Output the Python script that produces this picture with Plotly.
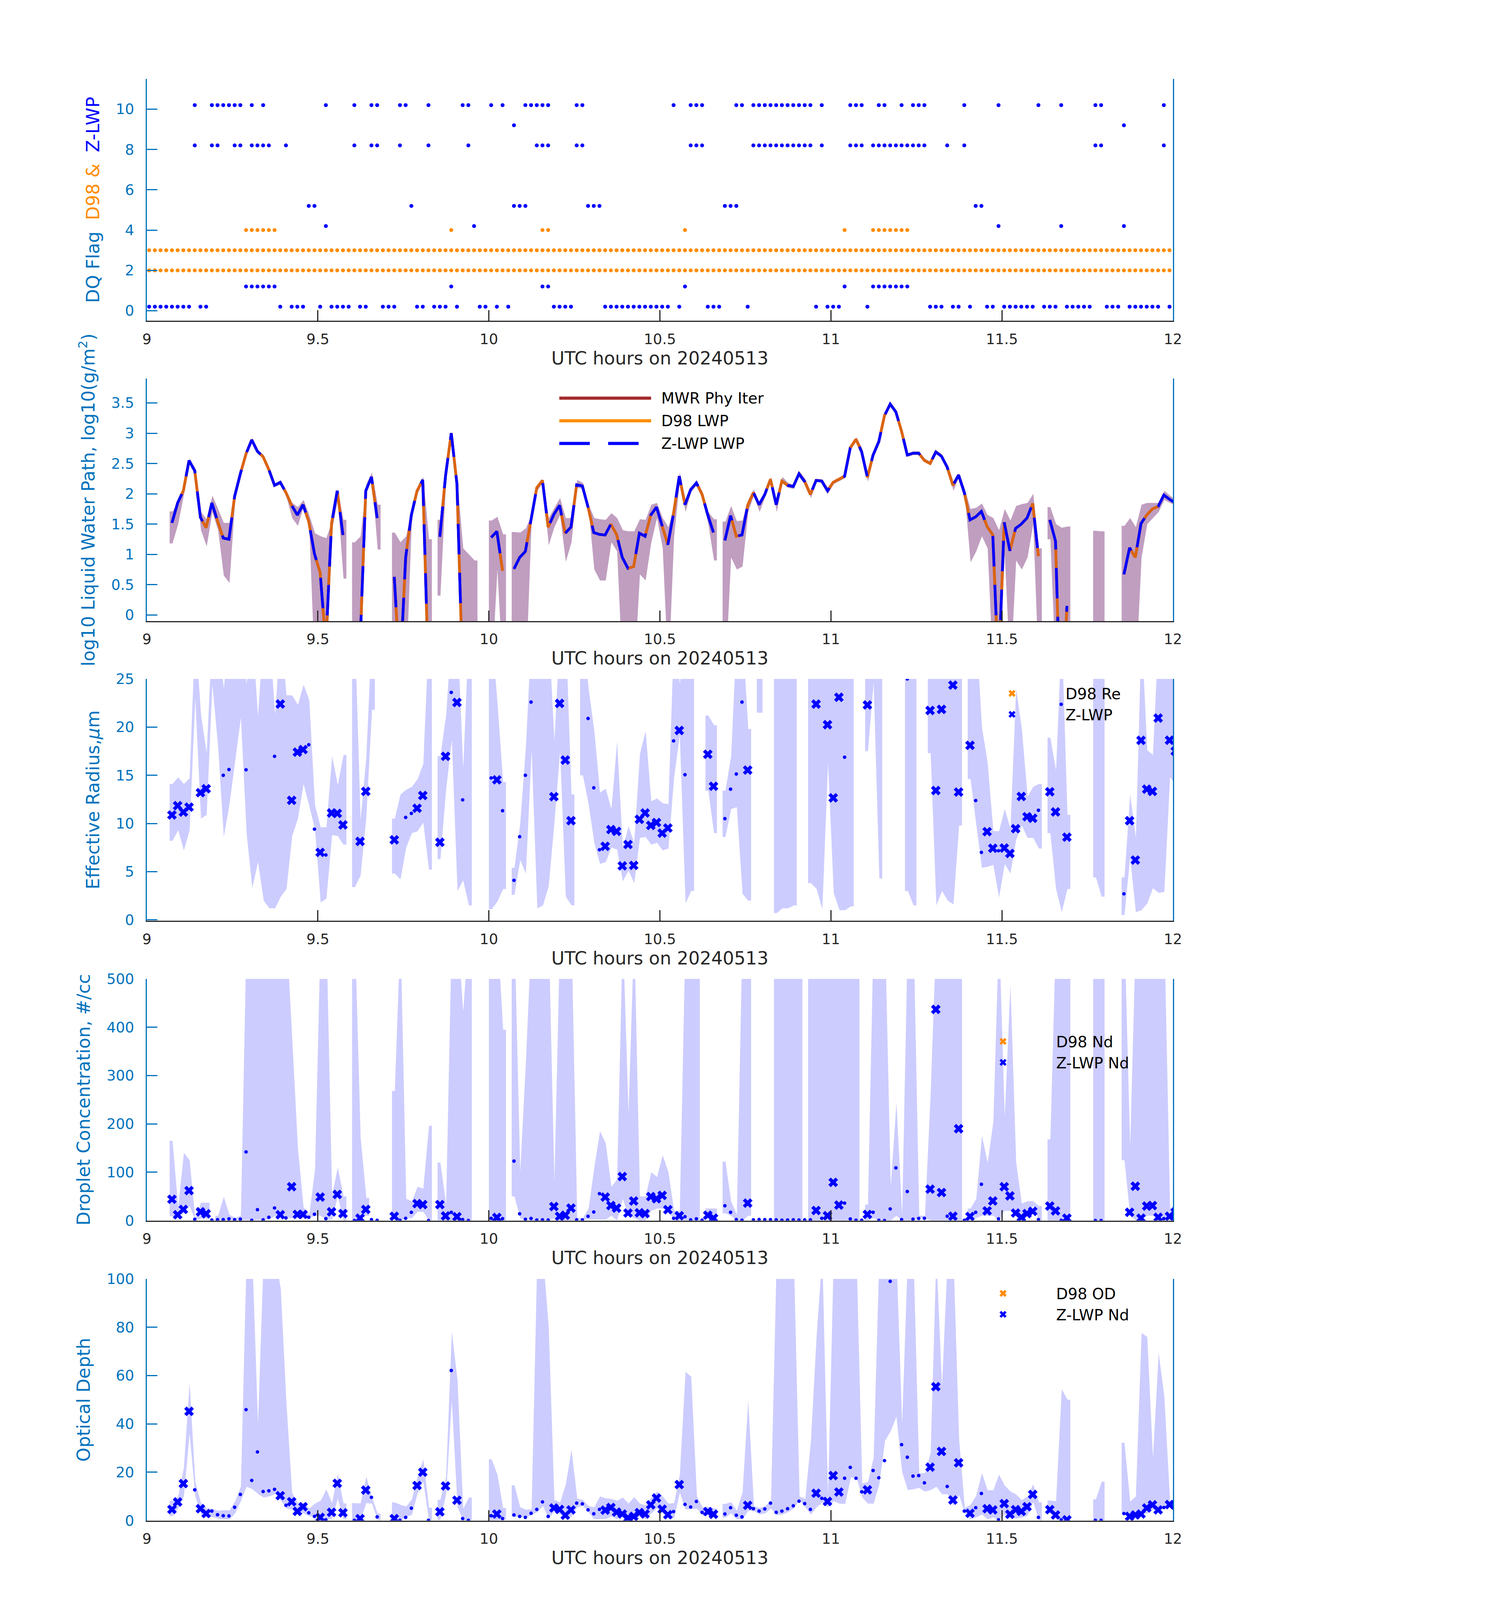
import plotly.graph_objects as go

# ---------------- data (minute index after 09:00 UTC) ----------------
x_ticks = [9, 9.5, 10, 10.5, 11, 11.5, 12]
x_ticklabels = ['9', '9.5', '10', '10.5', '11', '11.5', '12']

# DQ flags
d98_flag2_min = list(range(181))
d98_flag3_min = list(range(181))
d98_flag4_min = [17, 18, 19, 20, 21, 22, 53, 69, 70, 94, 122, 127, 128, 129, 130, 131, 132, 133]
zflag_0p2_min = [0, 1, 2, 3, 4, 5, 6, 7, 9, 10, 23, 25, 26, 27, 30, 32, 33, 34, 35, 37, 38, 41, 42, 43,
                 47, 48, 50, 51, 52, 54, 58, 59, 61, 63, 71, 72, 73, 74, 80, 81, 82, 83, 84, 85, 86, 87,
                 88, 89, 90, 91, 93, 98, 99, 100, 105, 117, 119, 120, 121, 126, 137, 138, 139, 141, 142,
                 144, 147, 148, 150, 151, 152, 153, 154, 155, 157, 158, 159, 161, 162, 163, 164, 165,
                 168, 169, 170, 172, 173, 174, 175, 176, 177, 179, 180]
zflag_1p2_min = [17, 18, 19, 20, 21, 22, 53, 69, 70, 94, 122, 127, 128, 129, 130, 131, 132, 133]
zflag_4p2_min = [31, 57, 149, 160, 171]
zflag_5p2_min = [28, 29, 46, 64, 65, 66, 77, 78, 79, 101, 102, 103, 145, 146]
zflag_8p2_min = [8, 11, 12, 15, 16, 18, 19, 20, 21, 24, 36, 39, 40, 44, 49, 56, 68, 69, 70, 75, 76, 95,
                 96, 97, 106, 107, 108, 109, 110, 111, 112, 113, 114, 115, 116, 118, 123, 124, 125, 127,
                 128, 129, 130, 131, 132, 133, 134, 135, 136, 140, 143, 166, 167, 178]
zflag_9p2_min = [64, 171]
zflag_10p2_min = [8, 11, 12, 13, 14, 15, 16, 18, 20, 31, 36, 39, 40, 44, 45, 49, 55, 56, 60, 62, 66, 67,
                  68, 69, 70, 75, 76, 92, 95, 96, 97, 103, 104, 106, 107, 108, 109, 110, 111, 112, 113,
                  114, 115, 116, 118, 123, 124, 125, 128, 129, 132, 134, 135, 136, 143, 149, 156, 160,
                  166, 167, 178]

# log10 LWP (same retrieval values read for MWR, D98 and Z-LWP)
lwp_min = [4, 5, 6, 7, 8, 9, 10, 11, 12, 13, 14, 15, 16, 17, 18, 19, 20, 21, 22, 23, 24, 25, 26, 27, 28,
           29, 30, 31, 32, 33, 34, 37, 38, 39, 40, 43, 44, 45, 46, 47, 48, 49, 51, 52, 53, 54, 55, 60,
           61, 62, 64, 65, 66, 67, 68, 69, 70, 71, 72, 73, 74, 75, 76, 77, 78, 79, 80, 81, 82, 83, 84,
           85, 86, 87, 88, 89, 90, 91, 92, 93, 94, 95, 96, 97, 98, 99, 101, 102, 103, 104, 105, 106,
           107, 108, 109, 110, 111, 112, 113, 114, 115, 116, 117, 118, 119, 120, 121, 122, 123, 124,
           125, 126, 127, 128, 129, 130, 131, 132, 133, 134, 135, 136, 137, 138, 139, 140, 141, 142,
           143, 144, 145, 146, 147, 148, 149, 150, 151, 152, 153, 154, 155, 156, 158, 159, 160, 161,
           171, 172, 173, 174, 175, 176, 177, 178, 179, 180]
lwp_val = [1.52, 1.85, 2.05, 2.55, 2.38, 1.61, 1.44, 1.85, 1.55, 1.27, 1.25, 1.96, 2.33, 2.66, 2.89,
           2.70, 2.61, 2.40, 2.14, 2.19, 2.02, 1.81, 1.65, 1.82, 1.54, 1.01, 0.70, -0.5, 1.51, 2.05,
           1.32, -0.5, 2.05, 2.28, 1.60, 0.63, -1.0, 0.95, 1.65, 2.05, 2.23, -1.0, 1.29, 2.30, 3.00,
           2.16, -1.0, 1.28, 1.38, 0.73, 0.76, 0.95, 1.05, 1.60, 2.10, 2.22, 1.45, 1.66, 1.81, 1.35,
           1.45, 2.15, 2.13, 1.78, 1.36, 1.33, 1.32, 1.50, 1.33, 0.95, 0.77, 0.80, 1.35, 1.30, 1.65,
           1.78, 1.48, 1.16, 1.68, 2.29, 1.82, 2.07, 2.18, 1.99, 1.65, 1.36, 1.23, 1.64, 1.30, 1.32,
           1.81, 2.02, 1.82, 1.99, 2.24, 1.82, 2.21, 2.14, 2.12, 2.33, 2.20, 1.99, 2.22, 2.21, 2.05,
           2.19, 2.24, 2.29, 2.76, 2.90, 2.69, 2.27, 2.64, 2.86, 3.29, 3.48, 3.35, 3.03, 2.64, 2.67,
           2.67, 2.55, 2.50, 2.69, 2.62, 2.44, 2.14, 2.31, 2.02, 1.57, 1.62, 1.71, 1.46, 1.32, -1.0,
           1.53, 1.06, 1.43, 1.50, 1.60, 1.84, 0.97, 1.57, 1.22, -2.0, 0.15, 0.67, 1.11, 0.95, 1.51,
           1.65, 1.75, 1.79, 1.98, 1.91, 1.85]

lwp_band_min = [4, 5, 6, 7, 8, 9, 10, 11, 12, 13, 14, 15, 16, 17, 18, 19, 20, 21, 22, 23, 24, 25, 26, 27,
                28, 29, 30, 31, 32, 33, 34, 36, 37, 38, 39, 40, 43, 44, 45, 46, 47, 48, 49, 51, 52, 53,
                54, 55, 56, 57, 60, 61, 62, 64, 65, 66, 67, 68, 69, 70, 71, 72, 73, 74, 75, 76, 77, 78,
                79, 80, 81, 82, 83, 84, 85, 86, 87, 88, 89, 90, 91, 92, 93, 94, 95, 96, 97, 98, 99, 101,
                102, 103, 104, 105, 106, 107, 108, 109, 110, 111, 112, 113, 114, 115, 116, 117, 118,
                119, 120, 121, 122, 123, 124, 125, 126, 127, 128, 129, 130, 131, 132, 133, 134, 135,
                136, 137, 138, 139, 140, 141, 142, 143, 144, 145, 146, 147, 148, 149, 150, 151, 152,
                153, 154, 155, 156, 158, 159, 160, 161, 166, 167, 171, 172, 173, 174, 175, 176, 177,
                178, 179, 180]
lwp_band_lo = [1.18, 1.50, 1.98, 2.50, 2.34, 1.40, 1.13, 1.70, 1.40, 0.65, 0.53, 1.90, 2.30, 2.63, 2.86,
               2.67, 2.58, 2.37, 2.12, 2.15, 1.95, 1.60, 1.47, 1.78, 1.45, -1, -1, -1, 1.40, 1.90, 0.60,
               -1, -1, 2.00, 2.25, 1.08, -1, -1, -1, 1.60, 2.00, 2.20, -1, 0.32, 2.25, 2.95, 2.10, -1,
               -1, -1, -1, 0.75, -1, -1, -1, -1, 1.55, 2.05, 2.18, 1.15, 1.45, 1.65, 0.88, 1.20, 2.10,
               2.08, 1.75, 0.75, 0.57, 0.57, 1.20, 1.05, -1, -1, -1, 0.67, 0.57, 1.20, 1.60, 1.10, -1,
               1.30, 2.20, 1.70, 2.03, 2.14, 1.95, 1.50, 0.90, -1, 0.95, 0.75, 0.80, 1.70, 1.97, 1.70,
               1.95, 2.20, 1.70, 2.18, 2.10, 2.08, 2.30, 2.15, 1.93, 2.20, 2.18, 2.00, 2.16, 2.21, 2.26,
               2.73, 2.87, 2.60, 2.20, 2.61, 2.83, 3.26, 3.45, 3.32, 3.00, 2.61, 2.64, 2.64, 2.52, 2.47,
               2.66, 2.59, 2.41, 2.05, 2.28, 1.98, 0.87, 1.05, 1.30, 1.10, -1, -1, 1.00, -1, 0.90, 0.75,
               0.95, 1.50, -1, 1.25, -1, -1, -1, -1, -1, -1, -1, -1, 0.95, 1.50, 1.60, 1.70, 1.90, 1.85,
               1.80]
lwp_band_hi = [1.71, 1.85, 2.10, 2.57, 2.42, 1.70, 1.58, 1.97, 1.75, 1.52, 1.52, 2.00, 2.36, 2.69, 2.92,
               2.73, 2.64, 2.43, 2.17, 2.22, 2.05, 1.85, 1.78, 1.90, 1.65, 1.35, 1.30, 1.27, 1.55, 2.07,
               1.57, 1.20, 1.30, 2.15, 2.35, 1.82, 1.36, 1.20, 1.30, 1.75, 2.10, 2.28, 1.25, 1.57, 2.35,
               3.02, 2.20, 1.10, 1.00, 0.90, 1.56, 1.62, 1.33, 1.37, 1.36, 1.43, 1.65, 2.15, 2.24, 1.60,
               1.77, 1.93, 1.60, 1.60, 2.23, 2.18, 1.82, 1.60, 1.58, 1.57, 1.68, 1.60, 1.40, 1.38, 1.38,
               1.58, 1.57, 1.82, 1.85, 1.60, 1.45, 1.80, 2.35, 1.90, 2.10, 2.22, 2.03, 1.70, 1.58, 1.54,
               1.80, 1.55, 1.56, 1.90, 2.07, 1.85, 2.05, 2.28, 1.85, 2.28, 2.18, 2.15, 2.37, 2.25, 2.03,
               2.25, 2.24, 2.10, 2.22, 2.27, 2.32, 2.79, 2.93, 2.75, 2.30, 2.67, 2.89, 3.32, 3.51, 3.38,
               3.06, 2.67, 2.70, 2.70, 2.58, 2.53, 2.72, 2.65, 2.47, 2.20, 2.34, 2.08, 1.75, 1.77, 1.84,
               1.65, 1.60, 1.40, 1.75, 1.56, 1.80, 1.83, 1.85, 2.00, 1.10, 1.78, 1.50, 1.44, 1.46, 1.39,
               1.38, 1.47, 1.60, 1.45, 1.82, 1.85, 1.85, 1.85, 2.05, 1.97, 1.90]

# Retrieval points: 'x' = Z-LWP retrieval, dot = low-confidence retrieval
re_x_min = [4, 5, 6, 7, 9, 10, 23, 25, 26, 27, 30, 32, 33, 34, 37, 38, 43, 47, 48, 51, 52, 54, 61, 71, 72,
            73, 74, 80, 81, 82, 83, 84, 85, 86, 87, 88, 89, 90, 91, 93, 98, 99, 105, 117, 119, 120, 121,
            126, 137, 138, 139, 141, 142, 144, 147, 148, 150, 151, 152, 153, 154, 155, 158, 159, 161,
            172, 173, 174, 175, 176, 177, 179, 180]
re_x_val = [10.88, 11.85, 11.18, 11.7, 13.2, 13.6, 22.4, 12.4, 17.4, 17.67, 7.0, 11.09, 11.05, 9.85, 8.14,
            13.33, 8.3, 11.58, 12.9, 8.05, 16.97, 22.56, 14.53, 12.78, 22.46, 16.58, 10.29, 7.63, 9.37,
            9.18, 5.6, 7.82, 5.65, 10.43, 11.09, 9.8, 10.1, 9.0, 9.53, 19.65, 17.18, 13.86, 15.54, 22.39,
            20.25, 12.66, 23.1, 22.3, 21.73, 13.42, 21.84, 24.36, 13.26, 18.11, 9.15, 7.43, 7.45, 6.89,
            9.46, 12.8, 10.7, 10.54, 13.29, 11.2, 8.58, 10.29, 6.2, 18.63, 13.56, 13.33, 20.94, 18.64,
            17.5]
re_dot_min = [13, 14, 17, 22, 28, 29, 31, 45, 46, 53, 55, 60, 62, 64, 65, 66, 67, 77, 78, 79, 92, 94, 101,
              102, 103, 104, 122, 133, 145, 146, 149, 156, 160, 171]
re_dot_val = [15.0, 15.6, 15.57, 16.97, 18.17, 9.41, 6.73, 10.63, 11.05, 23.6, 12.45, 14.72, 11.32, 4.1,
              8.63, 15.0, 22.6, 20.9, 13.7, 7.27, 18.57, 15.06, 10.5, 13.56, 15.13, 22.6, 16.88, 25.0,
              12.38, 7.0, 7.17, 11.37, 22.37, 2.7]
re_band_min = [4, 5, 6, 7, 8, 9, 10, 11, 12, 13, 14, 15, 16, 17, 18, 19, 20, 21, 22, 23, 24, 25, 26, 27,
               28, 29, 30, 31, 32, 33, 34, 36, 37, 38, 39, 43, 44, 45, 46, 47, 48, 49, 51, 52, 53, 54,
               55, 56, 60, 61, 62, 64, 65, 66, 67, 68, 69, 70, 71, 72, 73, 74, 76, 77, 78, 79, 80, 81,
               82, 83, 84, 85, 86, 87, 88, 89, 90, 91, 92, 93, 94, 95, 98, 99, 101, 102, 103, 104, 105,
               107, 110, 111, 112, 113, 116, 117, 118, 119, 120, 121, 122, 123, 126, 127, 128, 133,
               134, 137, 138, 139, 140, 141, 142, 144, 145, 146, 147, 148, 149, 150, 151, 152, 153,
               154, 155, 156, 158, 159, 160, 161, 166, 167, 171, 172, 173, 174, 175, 176, 177, 178,
               179, 180]
re_band_lo = [8.2, 9.3, 7.2, 9.3, 23.0, 10.5, 10.9, 24.4, 18, 8.6, 12.0, 16.5, 21, 9.0, 3.3, 6, 2.0, 1.2,
              1.2, 2.4, 3.2, 8.7, 10.5, 14.1, 11.8, 9.4, 1.8, 2.2, 8.8, 8.7, 7.8, 3.4, 4.6, 10.6, 21.8,
              4.8, 4.2, 7.5, 9.0, 9.2, 10.1, 5.2, 6.3, 13.5, 18.7, 3.0, 4.1, 1.5, 1.1, 1.9, 3.2, 2.6,
              6.2, 4.8, 17.6, 1.2, 1.5, 3.5, 10.1, 17.5, 2.4, 1.5, 15, 12, 8, 5.8, 6.0, 7.5, 7.3, 4.0,
              5.1, 3.8, 8.5, 8.6, 7.8, 8.0, 7.2, 7.4, 14.8, 19.2, 1.7, 3.0, 13.4, 9.0, 8.6, 11.5, 11.7,
              2.7, 2.0, 21.5, 0.7, 1.2, 1.2, 1.5, 3.8, 3.2, 1.1, 16.3, 2.8, 1.0, 1.0, 1.4, 17.5, 24.6,
              4.3, 3.0, 1.5, 17.3, 1.5, 3.0, 2.0, 1.6, 9.8, 14.6, 9.9, 5.4, 5.5, 5.7, 2.3, 5.8, 4.8,
              8.3, 9.8, 8.5, 8.5, 7.4, 9.0, 3.2, 0.8, 3.2, 4.4, 2.4, 0.5, 6.5, 0.8, 1.0, 1.7, 3.3, 2.8,
              2.9, 14.8, 14.0]
re_band_hi = [14.1, 14.8, 14.1, 14.7, 30, 21.3, 17.3, 30, 30, 24.0, 30, 30, 30, 24.5, 30, 21.2, 30, 30,
              21.3, 30, 23.3, 23.3, 22.3, 24.4, 22.8, 11.9, 9.6, 9.6, 17.0, 14.0, 17.1, 30, 10.4, 16.9,
              30, 10.5, 13.0, 13.5, 13.8, 14.6, 16.2, 30, 17.0, 21.2, 30, 30, 15.7, 30, 30, 22.6, 14.3,
              5.4, 10, 18, 30, 30, 30, 30, 18.6, 30, 30, 13.0, 30, 24, 19.6, 13.2, 13.6, 11.5, 18.5,
              7.5, 9.7, 8.0, 17.2, 19.6, 12.3, 12.6, 12.1, 12.0, 30, 24.5, 30, 30, 21.2, 20.2, 13.4,
              17.0, 30, 30, 19.8, 30, 30, 30, 30, 30, 30, 30, 30, 30, 30, 30, 30, 30, 30, 30, 30, 30,
              30, 30, 30, 30, 30, 30, 30, 30, 30, 20, 16.3, 9.2, 9.2, 11.5, 9.5, 24, 19.8, 12.8, 13.8,
              14.1, 18.9, 15.5, 30, 10.9, 30, 30, 4.4, 13.0, 8.5, 30, 17.6, 17.1, 30, 30, 30, 22.5]

nd_x_val = [44, 12, 23, 62, 18, 14, 12, 70, 12.7, 12.7, 48.6, 18, 54, 14.4, 5, 23, 8.8, 35, 33, 33, 9.5,
            8, 6.3, 29, 8.8, 11, 25.7, 48.6, 31, 25.7, 91, 15.5, 40.5, 16, 14.4, 49.6, 45, 52, 22.5, 10,
            11, 5, 36, 20.8, 10, 79, 32, 12.7, 65, 437, 58, 9, 190, 8.4, 20, 40.5, 70, 51, 15.5, 6.7,
            14.4, 19, 30, 20, 5, 17, 71, 5, 30, 31, 6.7, 8.8, 17]
nd_dot_min = [8, 11, 12, 13, 14, 15, 16, 17, 18, 19, 20, 21, 22, 24, 28, 29, 31, 36, 39, 40, 44, 45, 46,
              49, 53, 55, 56, 60, 62, 64, 65, 66, 67, 68, 69, 70, 75, 76, 77, 78, 79, 92, 94, 95, 96, 97,
              101, 102, 103, 104, 106, 107, 108, 109, 110, 111, 112, 113, 114, 115, 116, 118, 122, 123,
              124, 125, 127, 128, 129, 130, 131, 132, 133, 134, 135, 136, 140, 143, 145, 146, 149, 156,
              160, 166, 167, 178]
nd_dot_val = [2.5, 1, 1.8, 1.8, 3.5, 1.8, 2.8, 142, 0.4, 22.5, 1.4, 6.7, 26, 5.3, 6.7, 13, 3.9, 0, 1.8,
              0.4, 0.4, 4.6, 17, 0, 17, 2, 0, 4.6, 3.9, 123, 14, 2.5, 4.2, 1, 1.4, 1, 1.4, 1.4, 8.8,
              17.6, 55.6, 4.6, 8, 1.4, 3.5, 0.7, 30.6, 17, 2, 0.7, 1.4, 2, 1.8, 1.8, 1.4, 0.7, 1, 1.4, 1,
              1.4, 1.4, 4.6, 36, 3.2, 0.7, 0.7, 17, 0.4, 0, 24, 109, 2, 60, 2.8, 4.2, 4.6, 9, 0.4, 17,
              75, 3.5, 2, 0.4, 0, 0, 3.9]
nd_band_min = [4, 5, 6, 7, 8, 9, 10, 12, 13, 14, 15, 16, 17, 18, 19, 20, 21, 22, 23, 24, 25, 26, 27, 28,
               29, 30, 31, 32, 33, 34, 36, 37, 38, 43, 44, 45, 46, 47, 48, 49, 51, 52, 53, 54, 55, 56,
               60, 61, 62, 64, 65, 66, 67, 68, 69, 70, 71, 72, 73, 74, 75, 76, 77, 78, 79, 80, 81, 82,
               83, 84, 85, 86, 87, 88, 89, 90, 91, 92, 93, 94, 95, 96, 98, 99, 101, 102, 103, 104, 105,
               110, 111, 112, 113, 114, 116, 117, 118, 119, 120, 121, 122, 123, 124, 126, 127, 128,
               129, 130, 131, 132, 133, 134, 135, 136, 137, 138, 139, 140, 141, 142, 144, 145, 146,
               147, 148, 149, 150, 151, 152, 153, 154, 155, 156, 158, 159, 160, 161, 166, 167, 171,
               172, 173, 174, 175, 176, 177, 178, 179, 180]
nd_band_lo = [9, 7, 15, 30, 1, 4, 4, 0.5, 0.5, 1, 1, 1, 1, 1, 1, 1, 2, 10, 10, 5, 5, 5, 5, 5, 10, 10, 1,
              2, 50, 0, 0, 10, 10, 5, 0, 5, 5, 18, 18, 0, 0, 0, 0, 0, 0, 0, 0, 0, 0, 50, 5, 2, 0, 0, 0,
              0, 5, 0, 0, 0, 2, 2, 2, 2, 2, 2, 10, 0, 45, 10, 5, 0, 0, 20, 25, 25, 20, 0, 0, 0, 0, 0, 5,
              0, 15, 10, 0, 0, 10, 0, 0, 0, 0, 0, 0, 0, 0, 0, 0, 0, 0, 0, 0, 0, 5, 0, 0, 0, 10, 0, 0, 0,
              5, 5, 0, 0, 0, 0, 0, 0, 5, 5, 10, 10, 10, 0, 20, 20, 10, 0, 20, 30, 0, 0, 0, 0, 0, 0, 0,
              125, 10, 0, 5, 10, 10, 5, 5, 0, 0]
nd_band_hi = [165, 28, 140, 125, 4, 37, 37, 10, 49, 12, 5, 10, 600, 600, 600, 600, 600, 600, 600, 600,
              378, 150, 27, 12, 105, 600, 600, 52, 110, 50, 600, 173, 47, 268, 600, 45, 40, 70, 66, 196,
              120, 34, 600, 600, 433, 600, 600, 600, 395, 600, 100, 330, 600, 600, 600, 600, 80, 600,
              600, 600, 5, 5, 25, 110, 185, 160, 70, 85, 600, 222, 600, 50, 50, 100, 90, 135, 100, 20,
              20, 600, 600, 600, 25, 25, 122, 40, 12, 600, 600, 600, 600, 600, 600, 600, 600, 600, 600,
              600, 600, 600, 600, 600, 600, 33, 600, 600, 600, 70, 244, 10, 600, 600, 10, 10, 262, 600,
              600, 600, 600, 600, 25, 45, 175, 120, 204, 600, 215, 490, 120, 35, 40, 40, 30, 168, 600,
              600, 600, 600, 600, 600, 152, 600, 600, 600, 600, 600, 600, 25, 35]

od_x_val = [4.6, 7.7, 15.3, 45.2, 4.9, 2.9, 10.3, 7.8, 3.8, 5.7, 1.3, 3.4, 15.4, 3.2, 0.8, 12.6, 0.8,
            14.5, 20.0, 3.6, 14.3, 8.4, 2.7, 5.2, 4.6, 2.2, 4.4, 4.3, 5.4, 3.5, 2.7, 1.1, 1.7, 3.3, 2.7,
            6.5, 9.3, 4.7, 2.4, 14.9, 3.7, 2.6, 6.3, 11.3, 7.9, 18.6, 11.8, 12.7, 22.1, 55.4, 28.6, 8.5,
            23.9, 3.0, 4.9, 4.4, 7.0, 2.6, 4.5, 3.8, 5.7, 10.8, 4.5, 2.3, 0.3, 1.7, 2.3, 2.7, 5.2, 6.5,
            4.4, 6.6, 6.4]
od_dot_min = [8, 11, 12, 13, 14, 15, 16, 17, 18, 19, 20, 21, 22, 24, 28, 29, 31, 36, 39, 40, 44, 45, 46,
              49, 53, 55, 56, 60, 62, 64, 65, 66, 67, 68, 69, 70, 75, 76, 77, 78, 79, 92, 94, 95, 96, 97,
              101, 102, 103, 104, 106, 107, 108, 109, 110, 111, 112, 113, 114, 115, 116, 118, 122, 123,
              124, 125, 127, 128, 129, 130, 132, 133, 134, 135, 136, 140, 143, 145, 146, 149, 156, 160,
              166, 167, 171, 178]
od_dot_val = [12.7, 3.9, 2.4, 2.0, 1.9, 5.5, 10.8, 45.9, 16.6, 28.4, 12.0, 12.3, 12.9, 6.3, 3.2, 1.7,
              0.3, 0.1, 9.6, 1.5, 0.1, 1.3, 5.1, 0.1, 62.1, 0.8, 0.1, 2.0, 0.8, 2.3, 1.7, 1.3, 3.0, 4.6,
              7.7, 1.7, 7.2, 6.9, 4.4, 2.8, 4.6, 3.7, 6.7, 5.6, 7.9, 3.4, 2.7, 5.3, 2.2, 1.5, 4.9, 3.9,
              4.8, 7.2, 3.4, 3.9, 4.9, 6.1, 8.0, 7.0, 4.6, 9.2, 17.5, 22.0, 17.5, 11.9, 20.7, 17.7, 24.8,
              99.0, 31.4, 26.2, 18.4, 18.6, 15.6, 14.1, 3.9, 5.3, 11.2, 0.3, 1.3, 0.3, 0.1, 0.1, 2.9,
              5.4]
od_band_min = [4, 5, 6, 7, 8, 9, 10, 11, 12, 13, 14, 15, 16, 17, 18, 19, 20, 21, 22, 23, 24, 25, 26, 27,
               28, 29, 30, 31, 32, 33, 34, 36, 37, 38, 39, 40, 43, 44, 45, 46, 47, 48, 49, 51, 52, 53,
               54, 55, 56, 60, 61, 62, 64, 65, 66, 67, 68, 69, 70, 71, 72, 73, 74, 75, 76, 77, 78, 79,
               80, 81, 82, 83, 84, 85, 86, 87, 88, 89, 90, 91, 92, 93, 94, 95, 96, 97, 98, 99, 101,
               102, 103, 104, 105, 106, 107, 108, 109, 110, 111, 112, 113, 114, 115, 116, 117, 118,
               119, 120, 121, 122, 123, 124, 125, 126, 127, 128, 129, 130, 131, 132, 133, 134, 135,
               136, 137, 138, 139, 140, 141, 142, 143, 144, 145, 146, 147, 148, 149, 150, 151, 152,
               153, 154, 155, 156, 158, 159, 160, 161, 166, 167, 171, 172, 173, 174, 175, 176, 177,
               178, 179, 180]
od_band_lo = [1.8, 5, 10, 36, 10, 2.7, 1.3, 1.5, 0.8, 0.4, 0.4, 3, 8, 14, 13, 11, 9.5, 10, 11, 8.3, 5,
              4.5, 2.5, 3, 1.8, 1.6, 1, 0.5, 0.5, 9, 0.5, 0.1, 0.2, 7.2, 7.0, 0.1, 0.2, 0.2, 1.5, 2.3,
              11.3, 16.1, 0.1, 0.2, 10.8, 49.6, 5.6, 0.1, 0.1, 0.1, 0.1, 0.3, 1.6, 1.4, 1.2, 2.3, 3.5,
              6, 0.6, 4.0, 2.5, 1.0, 1.5, 5.5, 6, 3.5, 0.5, 0.6, 0.6, 1.7, 0.5, 2.5, 0.3, 0.5, 1.7, 0.5,
              3, 5, 3, 1.0, 1.0, 11.5, 4.6, 4.6, 5, 2, 2, 1.2, 1.2, 3, 0.5, 0.5, 4, 4, 2.5, 3, 5, 2.2,
              2.5, 3.5, 5, 8.5, 5.5, 2.5, 5.5, 7.5, 5.5, 8, 7.0, 6.8, 17.8, 17.8, 9.5, 7.0, 7.0, 15, 33,
              37, 43, 20, 12.6, 13, 13.5, 12, 12.6, 14, 10.9, 10.9, 6, 10.5, 3, 0.5, 1.3, 2.5, 0.5, 1.3,
              0, 2.5, 1.0, 0.8, 1.2, 2.0, 7.7, 0.1, 3.0, 1.3, 0.1, 0.1, 0.1, 0.1, 3, 2, 1.8, 2.5, 3,
              4.5, 3.5, 5.5, 7, 6.3]
od_band_hi = [8.2, 10, 22, 57, 16, 7.3, 5.0, 4.9, 4.0, 4.3, 4.2, 8, 14, 110, 110, 40, 110, 110, 110,
              95.8, 48, 11.5, 7, 7.4, 5, 7, 8.2, 12.9, 7.2, 19.5, 7.1, 7.2, 7.1, 18.2, 9.5, 2.9, 7.5,
              6.5, 5.8, 8.8, 18.3, 25.3, 5.3, 8.6, 18.2, 78.2, 58, 4.9, 9.5, 25.3, 19, 5.2, 14.6, 5.5,
              4.5, 4.6, 110, 110, 80, 8.5, 7.5, 15, 29.4, 9.1, 8.5, 6, 5.5, 10, 9.2, 9, 8.2, 9.5, 7,
              9.7, 7, 6.3, 9.5, 12, 10, 7, 7.2, 19, 61.5, 59.5, 10, 5.5, 5.7, 5, 6.9, 7.6, 4, 11.6,
              49.7, 6, 5.2, 6, 8.3, 110, 110, 110, 110, 10, 9, 33, 76.5, 110, 10, 110, 110, 110, 110,
              110, 15.3, 16, 26, 110, 110, 110, 110, 40, 110, 110, 19.6, 19.6, 28, 110, 55.6, 110, 110,
              33.4, 5.2, 6.5, 10.3, 19.6, 12.6, 12.5, 19.0, 14.5, 12, 10.8, 8.4, 10, 15, 7.5, 8.3, 8,
              54.4, 50, 8.8, 16.1, 32.2, 7.8, 10, 77.6, 76, 26, 69.3, 51.2, 8, 8]

# ---------------- helpers ----------------
def tmin(m):
    return 9 + (m + 0.4) / 60.0


def runs_of(mins):
    runs, cur = [], [0]
    for i in range(1, len(mins)):
        if mins[i] == mins[i - 1] + 1:
            cur.append(i)
        else:
            runs.append(cur)
            cur = [i]
    runs.append(cur)
    return runs


def line_xy(mins, vals):
    xs, ys = [], []
    for r in runs_of(mins):
        xs += [tmin(mins[i]) for i in r] + [None]
        ys += [vals[i] for i in r] + [None]
    return xs, ys


def band_xy(mins, lo, hi):
    xs, ys = [], []
    for r in runs_of(mins):
        tx = [9 + (mins[i] + 0.5) / 60.0 for i in r]
        tx = [tx[0] - 0.5 / 60.0] + tx + [tx[-1] + 0.5 / 60.0]
        l = [lo[r[0]]] + [lo[i] for i in r] + [lo[r[-1]]]
        h = [hi[r[0]]] + [hi[i] for i in r] + [hi[r[-1]]]
        xs += tx + tx[::-1] + [None]
        ys += l + h[::-1] + [None]
    return xs, ys


FONT = 'DejaVu Sans'
BLUE = '#0000FF'
ORANGE = '#FF8C00'
AXBLUE = '#0072BD'
DARK = '#262626'
W, H = 3825, 6000          # design size of the reference (layout fractions derived from it)
L, R = 376, 822

fig = go.Figure()

# ---------------- panel 1: DQ flags ----------------
for lev, mins in [(2, d98_flag2_min), (3, d98_flag3_min), (4, d98_flag4_min)]:
    fig.add_trace(go.Scatter(x=[tmin(m) for m in mins], y=[lev] * len(mins), mode='markers',
                             marker=dict(size=10, color=ORANGE), showlegend=False, xaxis='x', yaxis='y'))
for lev, mins in [(0.2, zflag_0p2_min), (1.2, zflag_1p2_min), (4.2, zflag_4p2_min), (5.2, zflag_5p2_min),
                  (8.2, zflag_8p2_min), (9.2, zflag_9p2_min), (10.2, zflag_10p2_min)]:
    fig.add_trace(go.Scatter(x=[tmin(m) for m in mins], y=[lev] * len(mins), mode='markers',
                             marker=dict(size=10, color=BLUE), showlegend=False, xaxis='x', yaxis='y'))

# ---------------- panel 2: LWP ----------------
bx, by = band_xy(lwp_band_min, lwp_band_lo, lwp_band_hi)
fig.add_trace(go.Scatter(x=bx, y=by, fill='toself', fillcolor='#C09EC0', mode='none', showlegend=False,
                         hoverinfo='skip', xaxis='x2', yaxis='y2'))
lx, ly = line_xy(lwp_min, lwp_val)
fig.add_trace(go.Scatter(x=lx, y=ly, mode='lines', line=dict(color='#A52A2A', width=7), name='MWR Phy Iter',
                         showlegend=False, xaxis='x2', yaxis='y2'))
fig.add_trace(go.Scatter(x=lx, y=ly, mode='lines', line=dict(color=ORANGE, width=7), opacity=0.6,
                         name='D98 LWP', showlegend=False, xaxis='x2', yaxis='y2'))
fig.add_trace(go.Scatter(x=lx, y=ly, mode='lines', line=dict(color=BLUE, width=7, dash='78px,47px'),
                         name='Z-LWP LWP', showlegend=False, xaxis='x2', yaxis='y2'))

# ---------------- panels 3-5 ----------------
panels = [
    ('x3', 'y3', 'legend', re_band_min, re_band_lo, re_band_hi, re_x_min, re_x_val, re_dot_min, re_dot_val,
     'D98 Re', 'Z-LWP'),
    ('x4', 'y4', 'legend2', nd_band_min, nd_band_lo, nd_band_hi, re_x_min, nd_x_val, nd_dot_min, nd_dot_val,
     'D98 Nd', 'Z-LWP Nd'),
    ('x5', 'y5', 'legend3', od_band_min, od_band_lo, od_band_hi, re_x_min, od_x_val, od_dot_min, od_dot_val,
     'D98 OD', 'Z-LWP Nd'),
]
for xa, ya, lg, bmin, blo, bhi, xmin_, xval, dmin, dval, n1, n2 in panels:
    bx, by = band_xy(bmin, blo, bhi)
    fig.add_trace(go.Scatter(x=bx, y=by, fill='toself', fillcolor='#CCCCFF', mode='none', showlegend=False,
                             hoverinfo='skip', xaxis=xa, yaxis=ya))
    # D98 retrieval: no valid values in this period (legend entry only)
    fig.add_trace(go.Scatter(x=[None], y=[None], mode='markers', name=n1, legend=lg,
                             marker=dict(symbol='x', size=22, color=ORANGE, line=dict(width=0)),
                             xaxis=xa, yaxis=ya))
    fig.add_trace(go.Scatter(x=[tmin(m) for m in xmin_], y=xval, mode='markers', name=n2, legend=lg,
                             marker=dict(symbol='x', size=22, color=BLUE, line=dict(width=0)),
                             xaxis=xa, yaxis=ya))
    fig.add_trace(go.Scatter(x=[tmin(m) for m in dmin], y=dval, mode='markers', showlegend=False,
                             marker=dict(size=9, color=BLUE), xaxis=xa, yaxis=ya))

# ---------------- axes ----------------
def py2paper(py):
    return (H - py) / H


def px2paper(px):
    return (px - L) / (W - L - R)


panel_px = [(296, 1203), (1420, 2329), (2546, 3453), (3671, 4577), (4796, 5702)]
y_ranges = [[-0.5, 11.5], [-0.1, 3.9], [-0.1, 25], [0, 500], [0, 100]]
y_ticks = [[0, 2, 4, 6, 8, 10], [0, 0.5, 1, 1.5, 2, 2.5, 3, 3.5], [0, 5, 10, 15, 20, 25],
           [0, 100, 200, 300, 400, 500], [0, 20, 40, 60, 80, 100]]
y_ticktext = [['0', '2', '4', '6', '8', '10'], ['0', '0.5', '1', '1.5', '2', '2.5', '3', '3.5'],
              ['0', '5', '10', '15', '20', '25'], ['0', '100', '200', '300', '400', '500'],
              ['0', '20', '40', '60', '80', '100']]
y_titles = [
    '<span style="color:#0072BD">DQ Flag\u00a0\u00a0</span><span style="color:#FF8C00">D98 &amp;\u00a0\u00a0</span>'
    '<span style="color:#0000FF">Z-LWP</span>',
    'log10 Liquid Water Path, log10(g/m<sup>2</sup>)',
    'Effective Radius,<i>\u03bc</i>m',
    'Droplet Concentration, #/cc',
    'Optical Depth',
]

layout = dict(autosize=True, paper_bgcolor='white', plot_bgcolor='white',
              margin=dict(l=L, r=R, t=0, b=0, autoexpand=False), font=dict(family=FONT, color=DARK),
              showlegend=True)
for i in range(5):
    sfx = '' if i == 0 else str(i + 1)
    top, bot = panel_px[i]
    layout['xaxis' + sfx] = dict(
        domain=[0, 1], anchor='y' + sfx, range=[9, 12], tickvals=x_ticks, ticktext=x_ticklabels,
        ticks='inside', ticklen=27, tickwidth=3, tickcolor=DARK, showline=True, linecolor=DARK, linewidth=3,
        showgrid=False, zeroline=False, tickfont=dict(family=FONT, size=37, color=DARK),
        ticklabelstandoff=12,
        title=dict(text='UTC hours on 20240513', font=dict(family=FONT, size=46, color=DARK), standoff=8))
    layout['yaxis' + sfx] = dict(
        domain=[py2paper(bot), py2paper(top)], anchor='x' + sfx, range=y_ranges[i], tickvals=y_ticks[i],
        ticktext=y_ticktext[i], ticks='inside', ticklen=27, tickwidth=3, tickcolor=AXBLUE, showline=True,
        linecolor=AXBLUE, linewidth=3, mirror=True, showgrid=False, zeroline=False,
        tickfont=dict(family=FONT, size=37, color=AXBLUE), ticklabelstandoff=22,
        title=dict(text=y_titles[i], font=dict(family=FONT, size=46, color=AXBLUE), standoff=28))

leg_common = dict(font=dict(family=FONT, size=39, color='black'), bgcolor='rgba(0,0,0,0)', borderwidth=0,
                  xanchor='left', yanchor='middle', itemwidth=264, tracegroupgap=0)
layout['legend'] = dict(leg_common, x=px2paper(2454), y=py2paper(2640))
layout['legend2'] = dict(leg_common, itemwidth=262, x=px2paper(2432), y=py2paper(3945))
layout['legend3'] = dict(leg_common, itemwidth=262, x=px2paper(2432), y=py2paper(4890))

# manual legend for the LWP panel (long line samples); rows keep a fixed pixel spacing
shapes, annos = [], []
leg_center = py2paper(1578)
leg_rows = [(58, '#A52A2A', 'solid', 'MWR Phy Iter'), (0, ORANGE, 'solid', 'D98 LWP'),
            (-58, BLUE, '78px,47px', 'Z-LWP LWP')]
for dy, col, dash, txt in leg_rows:
    shapes.append(dict(type='line', xref='paper', yref='paper', ysizemode='pixel', yanchor=leg_center,
                       x0=px2paper(1432), x1=px2paper(1667), y0=dy, y1=dy,
                       line=dict(color=col, width=8, dash=dash)))
    annos.append(dict(xref='paper', yref='paper', x=px2paper(1691), y=leg_center, yshift=dy, text=txt,
                      showarrow=False, xanchor='left', yanchor='middle',
                      font=dict(family=FONT, size=39, color='black')))
layout['shapes'] = shapes
layout['annotations'] = annos

fig.update_layout(**layout)
fig.write_html(
    'out.html',
    config={'responsive': True, 'displayModeBar': False},
    default_width='100vw',
    default_height='100vh',
    post_script=("document.body.style.margin='0px';"
                 "document.documentElement.style.overflow='hidden';"
                 "document.body.style.overflow='hidden';"
                 "Plotly.Plots.resize(document.getElementById('{plot_id}'));"),
)
